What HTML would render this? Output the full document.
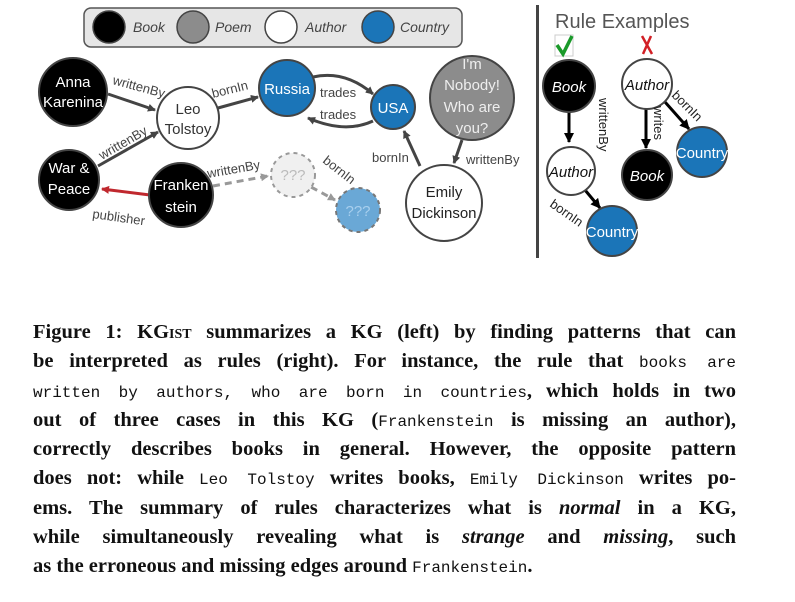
<!DOCTYPE html>
<html><head><meta charset="utf-8"><style>
body{margin:0;width:795px;height:602px;background:#fff;overflow:hidden;position:relative}
svg{position:absolute;left:0;top:0}
#cap{position:absolute;left:33px;top:318px;width:703px;font-family:"Liberation Serif",serif;font-weight:bold;font-size:20.5px;line-height:29.25px;color:#111}
#cap div{white-space:nowrap;text-align:justify;text-align-last:justify;height:29.25px}
#cap div.l{text-align-last:left}
#cap .m{font-family:"Liberation Mono",monospace;font-weight:normal;font-size:16px}
#cap i{font-style:italic}
.sc{font-variant:small-caps}
</style></head><body>
<svg width="795" height="300" viewBox="0 0 795 300" font-family="Liberation Sans, sans-serif">
<defs>
<marker id="a" markerWidth="8" markerHeight="8" refX="7" refY="4" orient="auto" markerUnits="userSpaceOnUse"><path d="M0,0L8,4L0,8z" fill="#444"/></marker>
<marker id="ag" markerWidth="8" markerHeight="8" refX="7" refY="4" orient="auto" markerUnits="userSpaceOnUse"><path d="M0,0L8,4L0,8z" fill="#999"/></marker>
<marker id="ar" markerWidth="8" markerHeight="8" refX="7" refY="4" orient="auto" markerUnits="userSpaceOnUse"><path d="M0,0L8,4L0,8z" fill="#c0282e"/></marker>
<marker id="ab" markerWidth="10" markerHeight="10" refX="9" refY="5" orient="auto" markerUnits="userSpaceOnUse"><path d="M0,0L10,5L0,10z" fill="#000"/></marker>
</defs>
<rect x="84" y="8" width="378" height="39" rx="7" fill="#e6e6e6" stroke="#555" stroke-width="1.5"/>
<circle cx="109" cy="27" r="16" fill="#000" stroke="#444" stroke-width="1.5"/>
<circle cx="193" cy="27" r="16" fill="#8c8c8c" stroke="#444" stroke-width="1.5"/>
<circle cx="281" cy="27" r="16" fill="#fff" stroke="#444" stroke-width="1.5"/>
<circle cx="378" cy="27" r="16" fill="#1b75b8" stroke="#444" stroke-width="1.5"/>
<g font-style="italic" font-size="14" fill="#444">
<text x="133" y="32">Book</text><text x="215" y="32">Poem</text><text x="305" y="32">Author</text><text x="400" y="32">Country</text></g>
<g stroke="#444" stroke-width="3" fill="none">
<line x1="108" y1="94" x2="155" y2="110" marker-end="url(#a)"/>
<line x1="98" y1="166" x2="158" y2="132" marker-end="url(#a)"/>
<line x1="218" y1="108" x2="258" y2="97" marker-end="url(#a)"/>
<path d="M313,77 Q345,70 373,94" marker-end="url(#a)"/>
<path d="M373,121 Q345,134 308,118" marker-end="url(#a)"/>
<line x1="420" y1="166" x2="404" y2="131" marker-end="url(#a)"/>
<line x1="462" y1="140" x2="454" y2="163" marker-end="url(#a)"/>
</g>
<line x1="150" y1="195" x2="102" y2="189" stroke="#c0282e" stroke-width="3" marker-end="url(#ar)"/>
<g stroke="#999" stroke-width="3" stroke-dasharray="7,5" fill="none">
<line x1="213" y1="186" x2="268" y2="176" marker-end="url(#ag)"/>
<line x1="311" y1="187" x2="335" y2="200" marker-end="url(#ag)"/>
</g>
<g font-size="13" fill="#444">
<text x="112" y="84" transform="rotate(15 112 84)">writtenBy</text>
<text x="102" y="160" transform="rotate(-30 102 160)">writtenBy</text>
<text x="213" y="98" transform="rotate(-14 213 98)">bornIn</text>
<text x="320" y="97">trades</text><text x="320" y="119">trades</text>
<text x="372" y="162">bornIn</text>
<text x="466" y="164">writtenBy</text>
<text x="92" y="218" transform="rotate(8 92 218)">publisher</text>
<text x="208" y="178" transform="rotate(-10 208 178)">writtenBy</text>
<text x="322" y="162" transform="rotate(38 322 162)">bornIn</text>
</g>
<g stroke="#444" stroke-width="2">
<circle cx="73" cy="92" r="34" fill="#000"/>
<circle cx="188" cy="118" r="31" fill="#fff"/>
<circle cx="287" cy="88" r="28" fill="#1b75b8"/>
<circle cx="393" cy="107" r="22" fill="#1b75b8"/>
<circle cx="472" cy="98" r="42" fill="#8c8c8c"/>
<circle cx="69" cy="180" r="30" fill="#000"/>
<circle cx="181" cy="195" r="32" fill="#000"/>
<circle cx="444" cy="203" r="38" fill="#fff"/>
</g>
<circle cx="293" cy="175" r="22" fill="#f0f0f0" stroke="#999" stroke-width="2" stroke-dasharray="4,4"/>
<circle cx="358" cy="210" r="22" fill="#6aa8d6" stroke="#777" stroke-width="2" stroke-dasharray="4,4"/>
<g font-size="15" text-anchor="middle">
<text x="73" y="87" fill="#fff">Anna</text><text x="73" y="107" fill="#fff">Karenina</text>
<text x="188" y="114" fill="#333">Leo</text><text x="188" y="134" fill="#333">Tolstoy</text>
<text x="287" y="94" fill="#fff">Russia</text>
<text x="393" y="113" fill="#fff">USA</text>
<text x="472" y="69" fill="#eee">I'm</text><text x="472" y="90" fill="#eee">Nobody!</text><text x="472" y="112" fill="#eee">Who are</text><text x="472" y="133" fill="#eee">you?</text>
<text x="69" y="173" fill="#fff">War &amp;</text><text x="69" y="194" fill="#fff">Peace</text>
<text x="181" y="190" fill="#fff">Franken</text><text x="181" y="212" fill="#fff">stein</text>
<text x="444" y="197" fill="#222">Emily</text><text x="444" y="218" fill="#222">Dickinson</text>
<text x="293" y="180" fill="#bbb">???</text>
<text x="358" y="216" fill="#a8cfee">???</text>
</g>
<rect x="536" y="5" width="3" height="253" fill="#444"/>
<text x="555" y="28" font-size="20" fill="#555">Rule Examples</text>
<rect x="555" y="35" width="18" height="21" fill="#fff" stroke="#ccc"/>
<path d="M557,45 L563,54 L572,36" stroke="#1a9a2a" stroke-width="3.5" fill="none"/>
<path d="M642,36 L652,54 M651,36 L643,54" stroke="#d21f25" stroke-width="2.5" fill="none"/>
<g stroke="#000" stroke-width="3">
<line x1="569" y1="112" x2="569" y2="142" marker-end="url(#ab)"/>
<line x1="585" y1="190" x2="600" y2="208" marker-end="url(#ab)"/>
<line x1="646" y1="109" x2="646" y2="148" marker-end="url(#ab)"/>
<line x1="665" y1="102" x2="689" y2="129" marker-end="url(#ab)"/>
</g>
<g stroke="#444" stroke-width="2">
<circle cx="569" cy="86" r="26" fill="#000"/>
<circle cx="571" cy="171" r="24" fill="#fff"/>
<circle cx="612" cy="231" r="25" fill="#1b75b8"/>
<circle cx="647" cy="84" r="25" fill="#fff"/>
<circle cx="647" cy="175" r="25" fill="#000"/>
<circle cx="702" cy="152" r="25" fill="#1b75b8"/>
</g>
<g font-size="15" text-anchor="middle" font-style="italic">
<text x="569" y="92" fill="#fff">Book</text>
<text x="571" y="177" fill="#111">Author</text>
<text x="647" y="90" fill="#111">Author</text>
<text x="647" y="181" fill="#fff">Book</text>
</g>
<g font-size="15" text-anchor="middle">
<text x="612" y="237" fill="#fff">Country</text>
<text x="702" y="158" fill="#fff">Country</text>
</g>
<g font-size="13" fill="#222">
<text x="599" y="98" transform="rotate(90 599 98)">writtenBy</text>
<text x="654" y="106" transform="rotate(90 654 106)">writes</text>
<text x="671" y="96" transform="rotate(45 671 96)">bornIn</text>
<text x="549" y="206" transform="rotate(35 549 206)">bornIn</text>
</g>
</svg>
<div id="cap">
<div>Figure 1: K<span class="sc">Gist</span> summarizes a KG (left) by finding patterns that can</div>
<div>be interpreted as rules (right). For instance, the rule that <span class="m">books are</span></div>
<div><span class="m">written by authors, who are born in countries</span>, which holds in two</div>
<div>out of three cases in this KG (<span class="m">Frankenstein</span> is missing an author),</div>
<div>correctly describes books in general. However, the opposite pattern</div>
<div>does not: while <span class="m">Leo Tolstoy</span> writes books, <span class="m">Emily Dickinson</span> writes po-</div>
<div>ems. The summary of rules characterizes what is <i>normal</i> in a KG,</div>
<div>while simultaneously revealing what is <i>strange</i> and <i>missing</i>, such</div>
<div class="l">as the erroneous and missing edges around <span class="m">Frankenstein</span>.</div>
</div>
</body></html>
